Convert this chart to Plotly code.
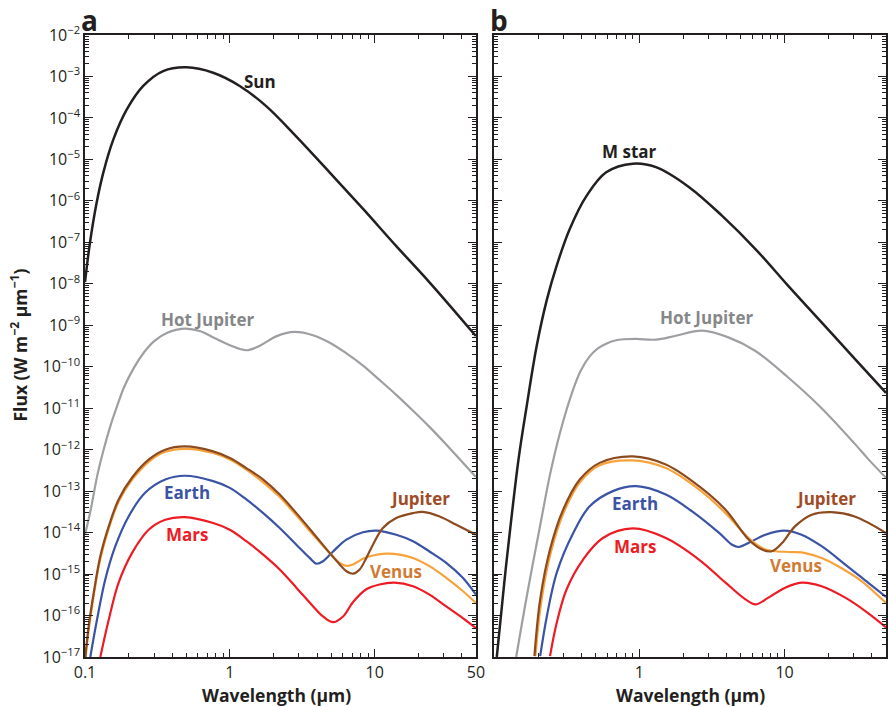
import math
import plotly.graph_objects as go

# ---------------- data (wavelength in micron, flux in W m^-2 micron^-1) -------------
# Panel a
sun_wl = [0.1, 0.1083, 0.1204, 0.1338, 0.1568, 0.194, 0.2524, 0.3465, 0.502, 0.767,
          1.17, 1.79, 2.87, 4.9, 8.35, 14.1, 24.0, 50]
sun_f = [1.1e-8, 1.0e-7, 9.1e-7, 4.8e-6, 3.0e-5, 1.58e-4, 5.9e-4, 1.35e-3, 1.66e-3, 1.23e-3,
         5.9e-4, 1.9e-4, 3.6e-5, 4.8e-6, 6.3e-7, 8.1e-8, 1.07e-8, 5.5e-10]

hja_wl = [0.1, 0.1094, 0.1216, 0.135, 0.150, 0.167, 0.186, 0.218, 0.255, 0.299, 0.370, 0.482,
          0.628, 0.776, 1.0, 1.3, 1.61, 2.09, 2.8, 3.75, 4.9, 6.39, 8.35, 10.8, 14.1, 18.4,
          24.0, 31.3, 42.8, 50]
hja_f = [8.9e-15, 3.5e-14, 2.4e-13, 1.05e-12, 3.8e-12, 1.15e-11, 3.2e-11, 9.5e-11, 2.2e-10,
         4.1e-10, 6.6e-10, 8.3e-10, 7.2e-10, 5.0e-10, 3.3e-10, 2.5e-10, 3.2e-10, 5.4e-10,
         6.9e-10, 5.75e-10, 3.8e-10, 2.1e-10, 1.05e-10, 4.8e-11, 2.1e-11, 8.7e-12, 3.5e-12,
         1.32e-12, 4.0e-13, 2.2e-13]

jupa_wl = [0.1005, 0.106, 0.1148, 0.1276, 0.1458, 0.1707, 0.211, 0.275, 0.358, 0.49, 0.767,
           1.0, 1.30, 1.70, 2.21, 2.88, 3.76, 4.9, 5.74, 6.38, 7.08, 7.88, 8.76, 9.73, 11.4,
           14.1, 18.4, 21.5, 28.1, 36.6, 50]
jupa_f = [1.0e-17, 5.5e-17, 3.5e-16, 2.7e-15, 1.41e-14, 6.3e-14, 2.1e-13, 5.75e-13, 1.0e-12,
          1.2e-12, 9.1e-13, 6.3e-13, 3.6e-13, 1.9e-13, 8.3e-14, 2.95e-14, 9.8e-15, 3.2e-15,
          1.7e-15, 1.17e-15, 1.02e-15, 1.29e-15, 2.45e-15, 5.1e-15, 1.29e-14, 2.24e-14,
          2.95e-14, 3.16e-14, 2.45e-14, 1.55e-14, 8.9e-15]

vena_wl = [0.101, 0.106, 0.1148, 0.1276, 0.1458, 0.1707, 0.211, 0.275, 0.358, 0.502, 0.767,
           1.0, 1.30, 1.70, 2.21, 2.88, 3.76, 4.9, 5.74, 6.38, 7.08, 8.3, 9.73, 12.0, 14.9,
           18.4, 23.9, 31.2, 40.6, 50]
vena_f = [1.0e-17, 4.5e-17, 3.0e-16, 2.35e-15, 1.26e-14, 5.6e-14, 1.86e-13, 5.1e-13, 8.9e-13,
          1.05e-12, 8.3e-13, 5.75e-13, 3.3e-13, 1.62e-13, 7.2e-14, 2.6e-14, 8.9e-15, 3.2e-15,
          1.86e-15, 1.58e-15, 1.7e-15, 2.35e-15, 2.8e-15, 3.1e-15, 2.95e-15, 2.45e-15,
          1.55e-15, 8.1e-16, 3.9e-16, 2.0e-16]

eara_wl = [0.1088, 0.121, 0.138, 0.162, 0.2, 0.26, 0.358, 0.49, 0.767, 1.0, 1.30, 1.70, 2.21,
           2.88, 3.56, 3.96, 4.40, 5.16, 6.38, 8.3, 10.27, 14.1, 18.4, 23.9, 31.2, 40.6, 50]
eara_f = [1.0e-17, 7.9e-17, 7.4e-16, 4.7e-15, 2.45e-14, 9.1e-14, 1.9e-13, 2.35e-13, 1.74e-13,
          1.2e-13, 6.3e-14, 2.95e-14, 1.29e-14, 5.1e-15, 2.45e-15, 1.78e-15, 2.04e-15,
          3.5e-15, 6.8e-15, 1.02e-14, 1.12e-14, 8.9e-15, 6.2e-15, 3.5e-15, 1.86e-15,
          8.1e-16, 3.2e-16]

mara_wl = [0.1276, 0.1458, 0.1707, 0.211, 0.275, 0.358, 0.49, 0.767, 1.0, 1.30, 1.70, 2.21,
           2.88, 3.76, 4.40, 5.16, 6.05, 7.08, 8.76, 10.8, 13.7, 18.4, 23.9, 31.2, 40.6, 50]
mara_f = [1.0e-17, 7.9e-17, 6.2e-16, 3.2e-15, 1.17e-14, 2.04e-14, 2.35e-14, 1.7e-14, 1.17e-14,
          6.2e-15, 2.95e-15, 1.29e-15, 4.7e-16, 1.66e-16, 9.5e-17, 6.9e-17, 9.5e-17, 2.1e-16,
          4.3e-16, 5.6e-16, 6.2e-16, 5.1e-16, 3.2e-16, 1.66e-16, 8.7e-17, 5.0e-17]

# Panel b
mst_wl = [0.104, 0.117, 0.125, 0.147, 0.167, 0.196, 0.23, 0.269, 0.331, 0.432, 0.59, 0.9, 1.3,
          2.2, 3.7, 6.3, 10.6, 18.0, 30.5, 50]
mst_f = [1.0e-17, 6.0e-16, 5.0e-15, 6.0e-13, 1.1e-11, 3.2e-10, 4.1e-9, 2.75e-8, 2.1e-7,
         1.32e-6, 4.9e-6, 7.9e-6, 6.5e-6, 2.14e-6, 4.4e-7, 6.9e-8, 8.9e-9, 1.17e-9, 1.55e-10,
         2.35e-11]

hjb_wl = [0.1415, 0.169, 0.209, 0.242, 0.283, 0.349, 0.393, 0.454, 0.52, 0.59, 0.68, 0.78,
          0.95, 1.3, 1.78, 2.7, 4.1, 6.3, 10.6, 18.0, 30.5, 37.6, 50]
hjb_f = [1.0e-17, 3.5e-16, 1.78e-14, 2.5e-13, 2.5e-12, 2.8e-11, 7.9e-11, 1.78e-10, 2.8e-10,
         3.6e-10, 4.3e-10, 4.6e-10, 4.7e-10, 4.5e-10, 5.6e-10, 7.4e-10, 5.1e-10, 2.4e-10,
         5.5e-11, 1.0e-11, 1.38e-12, 6.0e-13, 2.1e-13]

jupb_wl = [0.189, 0.207, 0.242, 0.298, 0.388, 0.532, 0.9, 1.52, 2.57, 3.92, 5.65, 6.99, 8.18,
           9.6, 11.8, 15.4, 21.1, 30.4, 50]
jupb_f = [1.05e-17, 2.45e-16, 3.9e-15, 3.55e-14, 1.9e-13, 4.8e-13, 6.9e-13, 4.4e-13, 1.32e-13,
          3.55e-14, 6.8e-15, 3.9e-15, 3.55e-15, 5.6e-15, 1.41e-14, 2.7e-14, 3.1e-14, 2.45e-14,
          9.8e-15]

venb_wl = [0.192, 0.21, 0.245, 0.3, 0.39, 0.532, 0.9, 1.52, 2.57, 3.92, 5.65, 7.38, 8.63, 11.2,
           13.9, 18.0, 23.4, 33.9, 50]
venb_f = [1.05e-17, 2.0e-16, 3.3e-15, 3.0e-14, 1.66e-13, 4.2e-13, 5.5e-13, 3.6e-13, 1.1e-13,
          2.95e-14, 7.4e-15, 3.9e-15, 3.55e-15, 3.4e-15, 3.2e-15, 2.45e-15, 1.55e-15, 6.8e-16,
          2.0e-16]

earb_wl = [0.207, 0.23, 0.269, 0.35, 0.454, 0.656, 0.95, 1.52, 2.32, 3.54, 4.35, 4.83, 5.97,
           7.38, 10.0, 13.1, 18.0, 26.2, 37.6, 50]
earb_f = [1.05e-17, 9.5e-17, 1.07e-15, 9.8e-15, 4.3e-14, 1.0e-13, 1.32e-13, 8.3e-14, 3.2e-14,
          9.8e-15, 5.1e-15, 4.5e-15, 6.2e-15, 8.9e-15, 1.12e-14, 8.9e-15, 4.7e-15, 1.7e-15,
          6.2e-16, 2.8e-16]

marb_wl = [0.242, 0.269, 0.315, 0.409, 0.56, 0.9, 1.52, 2.57, 3.92, 5.38, 6.3, 7.74, 10.1,
           13.1, 18.0, 26.2, 37.6, 50]
marb_f = [1.05e-17, 6.6e-17, 4.3e-16, 2.24e-15, 7.4e-15, 1.26e-14, 7.4e-15, 2.24e-15, 6.2e-16,
          2.45e-16, 1.86e-16, 2.7e-16, 4.7e-16, 6.2e-16, 5.1e-16, 2.7e-16, 1.15e-16, 5.2e-17]

x_tick_vals = [0.1, 1, 10, 50]
x_tick_text_a = ["0.1", "1", "10", "50"]
x_tick_text_b = ["", "1", "10", "50"]
y_exponents = list(range(-17, -1))

# ---------------- styling -------------
BLACK = "#231F20"
GRAY = "#9D9FA2"
GRAY_TXT = "#858789"
BLUE = "#3A53A4"
RED = "#ED1C24"
BROWN = "#8C4A1E"
BROWN_TXT = "#A04A26"
ORANGE = "#F7A23B"
ORANGE_TXT = "#D07B33"
FONT = "Open Sans"

fig = go.Figure()


def add(wl, f, color, xa, ya, width=2.2):
    fig.add_trace(go.Scatter(x=wl, y=f, mode="lines", xaxis=xa, yaxis=ya,
                             line=dict(color=color, width=width, shape="spline", smoothing=1.0),
                             hoverinfo="skip", showlegend=False))


# panel a
add(sun_wl, sun_f, BLACK, "x", "y", 2.5)
add(hja_wl, hja_f, GRAY, "x", "y")
add(mara_wl, mara_f, RED, "x", "y")
add(eara_wl, eara_f, BLUE, "x", "y")
add(vena_wl, vena_f, ORANGE, "x", "y")
add(jupa_wl, jupa_f, BROWN, "x", "y")
# panel b
add(mst_wl, mst_f, BLACK, "x2", "y2", 2.5)
add(hjb_wl, hjb_f, GRAY, "x2", "y2")
add(marb_wl, marb_f, RED, "x2", "y2")
add(earb_wl, earb_f, BLUE, "x2", "y2")
add(venb_wl, venb_f, ORANGE, "x2", "y2")
add(jupb_wl, jupb_f, BROWN, "x2", "y2")

x_minor = [m * 10 ** k for k in (-1, 0, 1) for m in range(2, 10) if m * 10 ** k < 50]
y_minor = [m * 10.0 ** k for k in range(-17, -2) for m in range(2, 10)]
y_tick_vals = [10.0 ** e for e in y_exponents]
y_tick_text = ["10<sup>\u2212%d</sup>" % (-e) for e in y_exponents]

common_x = dict(type="log", range=[-1, math.log10(50)], showgrid=False, zeroline=False,
                automargin=False,
                showline=True, linecolor=BLACK, linewidth=1.5, mirror="allticks",
                ticks="inside", ticklen=8, tickwidth=1.2, tickcolor=BLACK,
                tickmode="array", tickvals=x_tick_vals,
                tickfont=dict(family=FONT, size=16, color=BLACK),
                minor=dict(ticks="inside", ticklen=4, tickwidth=1, tickcolor=BLACK,
                           tickmode="array", tickvals=x_minor, showgrid=False))
common_y = dict(type="log", range=[-17, -2], showgrid=False, zeroline=False,
                automargin=False,
                showline=True, linecolor=BLACK, linewidth=1.5, mirror="allticks",
                ticks="inside", ticklen=8, tickwidth=1.2, tickcolor=BLACK,
                tickmode="array", tickvals=y_tick_vals, ticktext=y_tick_text,
                tickfont=dict(family=FONT, size=16, color=BLACK),
                minor=dict(ticks="inside", ticklen=4, tickwidth=1, tickcolor=BLACK,
                           tickmode="array", tickvals=y_minor, showgrid=False))

fig.update_layout(
    width=888, height=707,
    margin=dict(l=85, r=2, t=35, b=50, autoexpand=False),
    paper_bgcolor="white", plot_bgcolor="white",
    xaxis=dict(common_x, domain=[0, 0.488], anchor="y", ticktext=x_tick_text_a),
    yaxis=dict(common_y, domain=[0, 1], anchor="x"),
    xaxis2=dict(common_x, domain=[0.511, 1.0], anchor="y2", ticktext=x_tick_text_b),
    yaxis2=dict(common_y, domain=[0, 1], anchor="x2", showticklabels=False),
)


def label(text, wl, f, color, xa, ya, size=17):
    fig.add_annotation(x=math.log10(wl), y=math.log10(f), xref=xa, yref=ya, text="<b>%s</b>" % text,
                       showarrow=False, font=dict(family=FONT, size=size, color=color),
                       xanchor="center", yanchor="middle")


label("Sun", 1.61, 7.6e-4, BLACK, "x", "y")
label("Hot Jupiter", 0.705, 1.38e-9, GRAY_TXT, "x", "y")
label("Earth", 0.505, 9.5e-14, BLUE, "x", "y")
label("Mars", 0.505, 9.1e-15, RED, "x", "y")
label("Jupiter", 20.4, 6.5e-14, BROWN_TXT, "x", "y")
label("Venus", 14.0, 1.17e-15, ORANGE_TXT, "x", "y")

label("M star", 0.855, 1.55e-5, BLACK, "x2", "y2")
label("Hot Jupiter", 2.92, 1.55e-9, GRAY_TXT, "x2", "y2")
label("Earth", 0.925, 5.1e-14, BLUE, "x2", "y2")
label("Mars", 0.925, 4.7e-15, RED, "x2", "y2")
label("Jupiter", 19.4, 6.5e-14, BROWN_TXT, "x2", "y2")
label("Venus", 11.9, 1.58e-15, ORANGE_TXT, "x2", "y2")

# panel letters
for txt, xp in (("a", 0.006), ("b", 0.517)):
    fig.add_annotation(x=xp, y=1.024, xref="paper", yref="paper", text="<b>%s</b>" % txt,
                       showarrow=False, font=dict(family=FONT, size=28, color=BLACK),
                       xanchor="center", yanchor="middle")

# axis titles
for xp in (0.2385, 0.7555):
    fig.add_annotation(x=xp, y=-0.061, xref="paper", yref="paper",
                       text="<b>Wavelength (\u00b5m)</b>", showarrow=False,
                       font=dict(family=FONT, size=17.5, color=BLACK),
                       xanchor="center", yanchor="middle")
fig.add_annotation(x=-0.083, y=0.5016, xref="paper", yref="paper",
                   text="<b>Flux (W m<sup>\u22122</sup> \u00b5m<sup>\u22121</sup>)</b>",
                   showarrow=False, textangle=-90,
                   font=dict(family=FONT, size=17.5, color=BLACK),
                   xanchor="center", yanchor="middle")

# remove the page's default body margin so the 888x707 figure fills the window exactly
fig.write_html("out.html",
               config={"displayModeBar": False},
               post_script="document.body.style.margin='0';"
                           "document.documentElement.style.overflow='hidden';"
                           "document.body.style.overflow='hidden';")
